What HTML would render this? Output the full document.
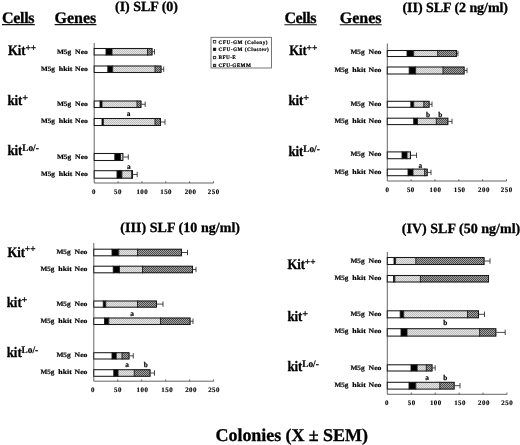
<!DOCTYPE html>
<html><head><meta charset="utf-8"><title>Colonies</title>
<style>
html,body{margin:0;padding:0;background:#fff;}
body{width:520px;height:445px;overflow:hidden;font-family:"Liberation Serif",serif;}
svg{display:block;filter:blur(0.35px);}
</style></head><body>
<svg text-rendering="geometricPrecision" width="520" height="445" viewBox="0 0 520 445">
<defs>
<pattern id="lg" width="2" height="2" patternUnits="userSpaceOnUse"><rect width="2" height="2" fill="#e4e4e4"/><rect width="1" height="1" fill="#c0c0c0"/><rect x="1" y="1" width="1" height="1" fill="#c0c0c0"/></pattern>
<pattern id="dg" width="2" height="2" patternUnits="userSpaceOnUse"><rect width="2" height="2" fill="#a4a4a4"/><rect width="1" height="1" fill="#4c4c4c"/><rect x="1" y="1" width="1" height="1" fill="#4c4c4c"/></pattern>
</defs>
<rect width="520" height="445" fill="#fff"/>

<text x="115" y="11" font-size="14" text-anchor="start" font-family="Liberation Serif, serif" font-weight="bold" textLength="63" lengthAdjust="spacing" stroke="#000" stroke-width="0.3" >(I) SLF (0)</text>
<text x="2" y="23.1" font-size="16" text-anchor="start" font-family="Liberation Serif, serif" font-weight="bold" textLength="32.6" lengthAdjust="spacing" stroke="#000" stroke-width="0.3" >Cells</text>
<line x1="2" y1="24.6" x2="34.8" y2="24.6" stroke="#111" stroke-width="1.1"/>
<text x="54.6" y="23.1" font-size="16" text-anchor="start" font-family="Liberation Serif, serif" font-weight="bold" textLength="41.6" lengthAdjust="spacing" stroke="#000" stroke-width="0.3" >Genes</text>
<line x1="54.6" y1="24.6" x2="96.4" y2="24.6" stroke="#111" stroke-width="1.1"/>
<text x="8" y="54.8" font-size="14.6" font-family="Liberation Serif, serif" font-weight="bold" textLength="17.6" lengthAdjust="spacingAndGlyphs" stroke="#000" stroke-width="0.3">Kit</text>
<text x="25.40" y="50.70" font-size="10" font-family="Liberation Serif, serif" font-weight="bold" textLength="10.8" lengthAdjust="spacingAndGlyphs" stroke="#000" stroke-width="0.2">++</text>
<text x="7.4" y="104.8" font-size="14.6" font-family="Liberation Serif, serif" font-weight="bold" textLength="15.0" lengthAdjust="spacingAndGlyphs" stroke="#000" stroke-width="0.3">kit</text>
<text x="22.20" y="100.70" font-size="10" font-family="Liberation Serif, serif" font-weight="bold" textLength="5.8" lengthAdjust="spacingAndGlyphs" stroke="#000" stroke-width="0.2">+</text>
<text x="7.4" y="154.7" font-size="14.6" font-family="Liberation Serif, serif" font-weight="bold" textLength="15.0" lengthAdjust="spacingAndGlyphs" stroke="#000" stroke-width="0.3">kit</text>
<text x="22.20" y="150.60" font-size="10" font-family="Liberation Serif, serif" font-weight="bold" textLength="16.6" lengthAdjust="spacingAndGlyphs" stroke="#000" stroke-width="0.2">Lo/-</text>
<text x="75.10" y="53.7" font-size="6.7" font-family="Liberation Serif, serif" font-weight="bold" textLength="12.8" lengthAdjust="spacingAndGlyphs" stroke="#000" stroke-width="0.2">Neo</text>
<text x="56.90" y="53.7" font-size="6.7" font-family="Liberation Serif, serif" font-weight="bold" textLength="14.2" lengthAdjust="spacingAndGlyphs" stroke="#000" stroke-width="0.2">M5g</text>
<text x="75.10" y="71.2" font-size="6.7" font-family="Liberation Serif, serif" font-weight="bold" textLength="12.8" lengthAdjust="spacingAndGlyphs" stroke="#000" stroke-width="0.2">Neo</text>
<text x="58.80" y="71.2" font-size="6.7" font-family="Liberation Serif, serif" font-weight="bold" textLength="13.5" lengthAdjust="spacingAndGlyphs" stroke="#000" stroke-width="0.2">hkit</text>
<text x="40.90" y="71.2" font-size="6.7" font-family="Liberation Serif, serif" font-weight="bold" textLength="13.9" lengthAdjust="spacingAndGlyphs" stroke="#000" stroke-width="0.2">M5g</text>
<text x="75.10" y="105.7" font-size="6.7" font-family="Liberation Serif, serif" font-weight="bold" textLength="12.8" lengthAdjust="spacingAndGlyphs" stroke="#000" stroke-width="0.2">Neo</text>
<text x="56.90" y="105.7" font-size="6.7" font-family="Liberation Serif, serif" font-weight="bold" textLength="14.2" lengthAdjust="spacingAndGlyphs" stroke="#000" stroke-width="0.2">M5g</text>
<text x="75.10" y="123.4" font-size="6.7" font-family="Liberation Serif, serif" font-weight="bold" textLength="12.8" lengthAdjust="spacingAndGlyphs" stroke="#000" stroke-width="0.2">Neo</text>
<text x="58.80" y="123.4" font-size="6.7" font-family="Liberation Serif, serif" font-weight="bold" textLength="13.5" lengthAdjust="spacingAndGlyphs" stroke="#000" stroke-width="0.2">hkit</text>
<text x="40.90" y="123.4" font-size="6.7" font-family="Liberation Serif, serif" font-weight="bold" textLength="13.9" lengthAdjust="spacingAndGlyphs" stroke="#000" stroke-width="0.2">M5g</text>
<text x="75.10" y="158.9" font-size="6.7" font-family="Liberation Serif, serif" font-weight="bold" textLength="12.8" lengthAdjust="spacingAndGlyphs" stroke="#000" stroke-width="0.2">Neo</text>
<text x="56.90" y="158.9" font-size="6.7" font-family="Liberation Serif, serif" font-weight="bold" textLength="14.2" lengthAdjust="spacingAndGlyphs" stroke="#000" stroke-width="0.2">M5g</text>
<text x="75.10" y="175.7" font-size="6.7" font-family="Liberation Serif, serif" font-weight="bold" textLength="12.8" lengthAdjust="spacingAndGlyphs" stroke="#000" stroke-width="0.2">Neo</text>
<text x="58.80" y="175.7" font-size="6.7" font-family="Liberation Serif, serif" font-weight="bold" textLength="13.5" lengthAdjust="spacingAndGlyphs" stroke="#000" stroke-width="0.2">hkit</text>
<text x="40.90" y="175.7" font-size="6.7" font-family="Liberation Serif, serif" font-weight="bold" textLength="13.9" lengthAdjust="spacingAndGlyphs" stroke="#000" stroke-width="0.2">M5g</text>
<path d="M94.2 43V183H213.6" stroke="#484848" stroke-width="0.85" fill="none"/>
<line x1="118.08" y1="183" x2="118.08" y2="181.2" stroke="#484848" stroke-width="0.8"/>
<line x1="141.96" y1="183" x2="141.96" y2="181.2" stroke="#484848" stroke-width="0.8"/>
<line x1="165.84" y1="183" x2="165.84" y2="181.2" stroke="#484848" stroke-width="0.8"/>
<line x1="189.72" y1="183" x2="189.72" y2="181.2" stroke="#484848" stroke-width="0.8"/>
<line x1="213.60" y1="183" x2="213.60" y2="181.2" stroke="#484848" stroke-width="0.8"/>
<text x="93.95" y="193.7" font-size="6.9" text-anchor="middle" font-family="Liberation Serif, serif" font-weight="bold" letter-spacing="0.5" stroke="#000" stroke-width="0.15">0</text>
<text x="118.05" y="193.7" font-size="6.9" text-anchor="middle" font-family="Liberation Serif, serif" font-weight="bold" letter-spacing="0.5" stroke="#000" stroke-width="0.15">50</text>
<text x="142.35" y="193.7" font-size="6.9" text-anchor="middle" font-family="Liberation Serif, serif" font-weight="bold" letter-spacing="0.5" stroke="#000" stroke-width="0.15">100</text>
<text x="166.15" y="193.7" font-size="6.9" text-anchor="middle" font-family="Liberation Serif, serif" font-weight="bold" letter-spacing="0.5" stroke="#000" stroke-width="0.15">150</text>
<text x="190.55" y="193.7" font-size="6.9" text-anchor="middle" font-family="Liberation Serif, serif" font-weight="bold" letter-spacing="0.5" stroke="#000" stroke-width="0.15">200</text>
<text x="213.75" y="193.7" font-size="6.9" text-anchor="middle" font-family="Liberation Serif, serif" font-weight="bold" letter-spacing="0.5" stroke="#000" stroke-width="0.15">250</text>
<rect x="94.20" y="48.30" width="11.80" height="6.90" fill="#ffffff"/>
<rect x="106.00" y="48.30" width="6.00" height="6.90" fill="#000000"/>
<rect x="112.00" y="48.30" width="35.50" height="6.90" fill="url(#lg)"/>
<rect x="147.50" y="48.30" width="5.00" height="6.90" fill="url(#dg)"/>
<line x1="106.00" y1="48.00" x2="106.00" y2="55.50" stroke="#1a1a1a" stroke-width="0.9"/>
<line x1="112.00" y1="48.00" x2="112.00" y2="55.50" stroke="#1a1a1a" stroke-width="0.9"/>
<line x1="147.50" y1="48.00" x2="147.50" y2="55.50" stroke="#1a1a1a" stroke-width="0.9"/>
<rect x="94.20" y="48.50" width="57.80" height="6.50" fill="none" stroke="#1a1a1a" stroke-width="1.05"/>
<path d="M152.50 51.75H154.50M154.50 49.05V54.45" stroke="#1a1a1a" stroke-width="0.8" fill="none"/>
<rect x="94.20" y="65.80" width="13.60" height="6.90" fill="#ffffff"/>
<rect x="107.80" y="65.80" width="4.90" height="6.90" fill="#000000"/>
<rect x="112.70" y="65.80" width="42.30" height="6.90" fill="url(#lg)"/>
<rect x="155.00" y="65.80" width="6.50" height="6.90" fill="url(#dg)"/>
<line x1="107.80" y1="65.50" x2="107.80" y2="73.00" stroke="#1a1a1a" stroke-width="0.9"/>
<line x1="112.70" y1="65.50" x2="112.70" y2="73.00" stroke="#1a1a1a" stroke-width="0.9"/>
<line x1="155.00" y1="65.50" x2="155.00" y2="73.00" stroke="#1a1a1a" stroke-width="0.9"/>
<rect x="94.20" y="66.00" width="66.80" height="6.50" fill="none" stroke="#1a1a1a" stroke-width="1.05"/>
<path d="M161.50 69.25H163.70M163.70 66.55V71.95" stroke="#1a1a1a" stroke-width="0.8" fill="none"/>
<rect x="94.20" y="100.80" width="5.80" height="6.90" fill="#ffffff"/>
<rect x="100.00" y="100.80" width="2.00" height="6.90" fill="#000000"/>
<rect x="102.00" y="100.80" width="35.00" height="6.90" fill="url(#lg)"/>
<rect x="137.00" y="100.80" width="4.40" height="6.90" fill="url(#dg)"/>
<line x1="100.00" y1="100.50" x2="100.00" y2="108.00" stroke="#1a1a1a" stroke-width="0.9"/>
<line x1="102.00" y1="100.50" x2="102.00" y2="108.00" stroke="#1a1a1a" stroke-width="0.9"/>
<line x1="137.00" y1="100.50" x2="137.00" y2="108.00" stroke="#1a1a1a" stroke-width="0.9"/>
<rect x="94.20" y="101.00" width="46.70" height="6.50" fill="none" stroke="#1a1a1a" stroke-width="1.05"/>
<path d="M141.40 104.25H145.20M145.20 101.55V106.95" stroke="#1a1a1a" stroke-width="0.8" fill="none"/>
<rect x="94.20" y="118.30" width="7.80" height="7.40" fill="#ffffff"/>
<rect x="102.00" y="118.30" width="1.40" height="7.40" fill="#000000"/>
<rect x="103.40" y="118.30" width="51.60" height="7.40" fill="url(#lg)"/>
<rect x="155.00" y="118.30" width="6.00" height="7.40" fill="url(#dg)"/>
<line x1="102.00" y1="118.00" x2="102.00" y2="126.00" stroke="#1a1a1a" stroke-width="0.9"/>
<line x1="103.40" y1="118.00" x2="103.40" y2="126.00" stroke="#1a1a1a" stroke-width="0.9"/>
<line x1="155.00" y1="118.00" x2="155.00" y2="126.00" stroke="#1a1a1a" stroke-width="0.9"/>
<rect x="94.20" y="118.50" width="66.30" height="7.00" fill="none" stroke="#1a1a1a" stroke-width="1.05"/>
<path d="M161.00 122.00H165.00M165.00 119.30V124.70" stroke="#1a1a1a" stroke-width="0.8" fill="none"/>
<rect x="94.20" y="153.30" width="20.60" height="7.40" fill="#ffffff"/>
<rect x="114.80" y="153.30" width="5.70" height="7.40" fill="#000000"/>
<rect x="120.50" y="153.30" width="2.90" height="7.40" fill="url(#lg)"/>
<line x1="114.80" y1="153.00" x2="114.80" y2="161.00" stroke="#1a1a1a" stroke-width="0.9"/>
<line x1="120.50" y1="153.00" x2="120.50" y2="161.00" stroke="#1a1a1a" stroke-width="0.9"/>
<rect x="94.20" y="153.50" width="28.70" height="7.00" fill="none" stroke="#1a1a1a" stroke-width="1.05"/>
<path d="M123.40 157.00H128.30M128.30 154.30V159.70" stroke="#1a1a1a" stroke-width="0.8" fill="none"/>
<rect x="94.20" y="170.50" width="22.80" height="7.90" fill="#ffffff"/>
<rect x="117.00" y="170.50" width="4.90" height="7.90" fill="#000000"/>
<rect x="121.90" y="170.50" width="9.80" height="7.90" fill="url(#lg)"/>
<rect x="131.70" y="170.50" width="1.30" height="7.90" fill="url(#dg)"/>
<line x1="117.00" y1="170.20" x2="117.00" y2="178.70" stroke="#1a1a1a" stroke-width="0.9"/>
<line x1="121.90" y1="170.20" x2="121.90" y2="178.70" stroke="#1a1a1a" stroke-width="0.9"/>
<line x1="131.70" y1="170.20" x2="131.70" y2="178.70" stroke="#1a1a1a" stroke-width="0.9"/>
<rect x="94.20" y="170.70" width="38.30" height="7.50" fill="none" stroke="#1a1a1a" stroke-width="1.05"/>
<path d="M133.00 174.45H137.20M137.20 171.75V177.15" stroke="#1a1a1a" stroke-width="0.8" fill="none"/>
<text x="128.6" y="116.0" font-size="7.3" text-anchor="middle" font-family="Liberation Serif, serif" font-weight="bold" stroke="#000" stroke-width="0.2" >a</text>
<text x="128.8" y="169.4" font-size="7.3" text-anchor="middle" font-family="Liberation Serif, serif" font-weight="bold" stroke="#000" stroke-width="0.2" >a</text>
<rect x="211" y="37.3" width="60.5" height="30.7" fill="#fff" stroke="#555" stroke-width="0.8"/>
<rect x="213.3" y="40.5" width="2.5" height="2.5" fill="#fff" stroke="#111" stroke-width="0.7"/>
<text x="218.5" y="43.6" font-size="5.2" text-anchor="start" font-family="Liberation Serif, serif" font-weight="bold" textLength="49" lengthAdjust="spacing" stroke="#000" stroke-width="0.2" >CFU-GM (Colony)</text>
<rect x="213.3" y="48.1" width="2.5" height="2.5" fill="#000" stroke="#111" stroke-width="0.7"/>
<text x="218.5" y="51.2" font-size="5.2" text-anchor="start" font-family="Liberation Serif, serif" font-weight="bold" textLength="50.3" lengthAdjust="spacing" stroke="#000" stroke-width="0.2" >CFU-GM (Cluster)</text>
<rect x="213.3" y="56.3" width="2.5" height="2.5" fill="url(#lg)" stroke="#111" stroke-width="0.7"/>
<text x="218.5" y="59.4" font-size="5.2" text-anchor="start" font-family="Liberation Serif, serif" font-weight="bold" textLength="17.3" lengthAdjust="spacing" stroke="#000" stroke-width="0.2" >BFU-E</text>
<rect x="213.3" y="64.2" width="2.5" height="2.5" fill="url(#dg)" stroke="#111" stroke-width="0.7"/>
<text x="218.5" y="67.3" font-size="5.2" text-anchor="start" font-family="Liberation Serif, serif" font-weight="bold" textLength="32.3" lengthAdjust="spacing" stroke="#000" stroke-width="0.2" >CFU-GEMM</text>
<text x="402.5" y="12" font-size="14" text-anchor="start" font-family="Liberation Serif, serif" font-weight="bold" textLength="105.5" lengthAdjust="spacing" stroke="#000" stroke-width="0.3" >(II) SLF (2 ng/ml)</text>
<text x="284.4" y="23.3" font-size="16" text-anchor="start" font-family="Liberation Serif, serif" font-weight="bold" textLength="32.2" lengthAdjust="spacing" stroke="#000" stroke-width="0.3" >Cells</text>
<line x1="284.4" y1="24.8" x2="316.8" y2="24.8" stroke="#111" stroke-width="1.1"/>
<text x="339.7" y="23.3" font-size="16" text-anchor="start" font-family="Liberation Serif, serif" font-weight="bold" textLength="41.8" lengthAdjust="spacing" stroke="#000" stroke-width="0.3" >Genes</text>
<line x1="339.7" y1="24.8" x2="381.7" y2="24.8" stroke="#111" stroke-width="1.1"/>
<path d="M387.3 43.5V181H506.5" stroke="#484848" stroke-width="0.85" fill="none"/>
<line x1="411.14" y1="181" x2="411.14" y2="179.2" stroke="#484848" stroke-width="0.8"/>
<line x1="434.98" y1="181" x2="434.98" y2="179.2" stroke="#484848" stroke-width="0.8"/>
<line x1="458.82" y1="181" x2="458.82" y2="179.2" stroke="#484848" stroke-width="0.8"/>
<line x1="482.66" y1="181" x2="482.66" y2="179.2" stroke="#484848" stroke-width="0.8"/>
<line x1="506.50" y1="181" x2="506.50" y2="179.2" stroke="#484848" stroke-width="0.8"/>
<text x="387.45" y="191.6" font-size="6.9" text-anchor="middle" font-family="Liberation Serif, serif" font-weight="bold" letter-spacing="0.5" stroke="#000" stroke-width="0.15">0</text>
<text x="410.85" y="191.6" font-size="6.9" text-anchor="middle" font-family="Liberation Serif, serif" font-weight="bold" letter-spacing="0.5" stroke="#000" stroke-width="0.15">50</text>
<text x="435.45" y="191.6" font-size="6.9" text-anchor="middle" font-family="Liberation Serif, serif" font-weight="bold" letter-spacing="0.5" stroke="#000" stroke-width="0.15">100</text>
<text x="459.65" y="191.6" font-size="6.9" text-anchor="middle" font-family="Liberation Serif, serif" font-weight="bold" letter-spacing="0.5" stroke="#000" stroke-width="0.15">150</text>
<text x="483.95" y="191.6" font-size="6.9" text-anchor="middle" font-family="Liberation Serif, serif" font-weight="bold" letter-spacing="0.5" stroke="#000" stroke-width="0.15">200</text>
<text x="506.75" y="191.6" font-size="6.9" text-anchor="middle" font-family="Liberation Serif, serif" font-weight="bold" letter-spacing="0.5" stroke="#000" stroke-width="0.15">250</text>
<rect x="387.30" y="50.30" width="19.70" height="6.40" fill="#ffffff"/>
<rect x="407.00" y="50.30" width="6.70" height="6.40" fill="#000000"/>
<rect x="413.70" y="50.30" width="24.00" height="6.40" fill="url(#lg)"/>
<rect x="437.70" y="50.30" width="19.30" height="6.40" fill="url(#dg)"/>
<line x1="407.00" y1="50.00" x2="407.00" y2="57.00" stroke="#1a1a1a" stroke-width="0.9"/>
<line x1="413.70" y1="50.00" x2="413.70" y2="57.00" stroke="#1a1a1a" stroke-width="0.9"/>
<line x1="437.70" y1="50.00" x2="437.70" y2="57.00" stroke="#1a1a1a" stroke-width="0.9"/>
<rect x="387.30" y="50.50" width="69.20" height="6.00" fill="none" stroke="#1a1a1a" stroke-width="1.05"/>
<path d="M457.00 53.50H458.00M458.00 50.80V56.20" stroke="#1a1a1a" stroke-width="0.8" fill="none"/>
<rect x="387.30" y="66.80" width="21.90" height="7.40" fill="#ffffff"/>
<rect x="409.20" y="66.80" width="6.40" height="7.40" fill="#000000"/>
<rect x="415.60" y="66.80" width="27.40" height="7.40" fill="url(#lg)"/>
<rect x="443.00" y="66.80" width="21.60" height="7.40" fill="url(#dg)"/>
<line x1="409.20" y1="66.50" x2="409.20" y2="74.50" stroke="#1a1a1a" stroke-width="0.9"/>
<line x1="415.60" y1="66.50" x2="415.60" y2="74.50" stroke="#1a1a1a" stroke-width="0.9"/>
<line x1="443.00" y1="66.50" x2="443.00" y2="74.50" stroke="#1a1a1a" stroke-width="0.9"/>
<rect x="387.30" y="67.00" width="76.80" height="7.00" fill="none" stroke="#1a1a1a" stroke-width="1.05"/>
<path d="M464.60 70.50H467.00M467.00 67.80V73.20" stroke="#1a1a1a" stroke-width="0.8" fill="none"/>
<rect x="387.30" y="101.10" width="23.50" height="6.40" fill="#ffffff"/>
<rect x="410.80" y="101.10" width="2.90" height="6.40" fill="#000000"/>
<rect x="413.70" y="101.10" width="10.10" height="6.40" fill="url(#lg)"/>
<rect x="423.80" y="101.10" width="5.80" height="6.40" fill="url(#dg)"/>
<line x1="410.80" y1="100.80" x2="410.80" y2="107.80" stroke="#1a1a1a" stroke-width="0.9"/>
<line x1="413.70" y1="100.80" x2="413.70" y2="107.80" stroke="#1a1a1a" stroke-width="0.9"/>
<line x1="423.80" y1="100.80" x2="423.80" y2="107.80" stroke="#1a1a1a" stroke-width="0.9"/>
<rect x="387.30" y="101.30" width="41.80" height="6.00" fill="none" stroke="#1a1a1a" stroke-width="1.05"/>
<path d="M429.60 104.30H432.00M432.00 101.60V107.00" stroke="#1a1a1a" stroke-width="0.8" fill="none"/>
<rect x="387.30" y="118.00" width="26.40" height="6.80" fill="#ffffff"/>
<rect x="413.70" y="118.00" width="3.80" height="6.80" fill="#000000"/>
<rect x="417.50" y="118.00" width="18.80" height="6.80" fill="url(#lg)"/>
<rect x="436.30" y="118.00" width="12.00" height="6.80" fill="url(#dg)"/>
<line x1="413.70" y1="117.70" x2="413.70" y2="125.10" stroke="#1a1a1a" stroke-width="0.9"/>
<line x1="417.50" y1="117.70" x2="417.50" y2="125.10" stroke="#1a1a1a" stroke-width="0.9"/>
<line x1="436.30" y1="117.70" x2="436.30" y2="125.10" stroke="#1a1a1a" stroke-width="0.9"/>
<rect x="387.30" y="118.20" width="60.50" height="6.40" fill="none" stroke="#1a1a1a" stroke-width="1.05"/>
<path d="M448.30 121.40H452.00M452.00 118.70V124.10" stroke="#1a1a1a" stroke-width="0.8" fill="none"/>
<rect x="387.30" y="151.70" width="14.70" height="7.20" fill="#ffffff"/>
<rect x="402.00" y="151.70" width="5.00" height="7.20" fill="#000000"/>
<rect x="407.00" y="151.70" width="4.00" height="7.20" fill="url(#lg)"/>
<line x1="402.00" y1="151.40" x2="402.00" y2="159.20" stroke="#1a1a1a" stroke-width="0.9"/>
<line x1="407.00" y1="151.40" x2="407.00" y2="159.20" stroke="#1a1a1a" stroke-width="0.9"/>
<rect x="387.30" y="151.90" width="23.20" height="6.80" fill="none" stroke="#1a1a1a" stroke-width="1.05"/>
<path d="M411.00 155.30H416.50M416.50 152.60V158.00" stroke="#1a1a1a" stroke-width="0.8" fill="none"/>
<rect x="387.30" y="168.90" width="20.70" height="7.00" fill="#ffffff"/>
<rect x="408.00" y="168.90" width="5.00" height="7.00" fill="#000000"/>
<rect x="413.00" y="168.90" width="11.60" height="7.00" fill="url(#lg)"/>
<rect x="424.60" y="168.90" width="3.10" height="7.00" fill="url(#dg)"/>
<line x1="408.00" y1="168.60" x2="408.00" y2="176.20" stroke="#1a1a1a" stroke-width="0.9"/>
<line x1="413.00" y1="168.60" x2="413.00" y2="176.20" stroke="#1a1a1a" stroke-width="0.9"/>
<line x1="424.60" y1="168.60" x2="424.60" y2="176.20" stroke="#1a1a1a" stroke-width="0.9"/>
<rect x="387.30" y="169.10" width="39.90" height="6.60" fill="none" stroke="#1a1a1a" stroke-width="1.05"/>
<path d="M427.70 172.40H431.00M431.00 169.70V175.10" stroke="#1a1a1a" stroke-width="0.8" fill="none"/>
<text x="428" y="116.7" font-size="7.3" text-anchor="middle" font-family="Liberation Serif, serif" font-weight="bold" stroke="#000" stroke-width="0.2" >b</text>
<text x="440.2" y="116.7" font-size="7.3" text-anchor="middle" font-family="Liberation Serif, serif" font-weight="bold" stroke="#000" stroke-width="0.2" >b</text>
<text x="420.4" y="167.5" font-size="7.3" text-anchor="middle" font-family="Liberation Serif, serif" font-weight="bold" stroke="#000" stroke-width="0.2" >a</text>
<text x="289.2" y="55" font-size="14.6" font-family="Liberation Serif, serif" font-weight="bold" textLength="17.6" lengthAdjust="spacingAndGlyphs" stroke="#000" stroke-width="0.3">Kit</text>
<text x="306.60" y="50.90" font-size="10" font-family="Liberation Serif, serif" font-weight="bold" textLength="10.8" lengthAdjust="spacingAndGlyphs" stroke="#000" stroke-width="0.2">++</text>
<text x="288.4" y="105" font-size="14.6" font-family="Liberation Serif, serif" font-weight="bold" textLength="15.0" lengthAdjust="spacingAndGlyphs" stroke="#000" stroke-width="0.3">kit</text>
<text x="303.20" y="100.90" font-size="10" font-family="Liberation Serif, serif" font-weight="bold" textLength="5.8" lengthAdjust="spacingAndGlyphs" stroke="#000" stroke-width="0.2">+</text>
<text x="288.4" y="155.7" font-size="14.6" font-family="Liberation Serif, serif" font-weight="bold" textLength="15.0" lengthAdjust="spacingAndGlyphs" stroke="#000" stroke-width="0.3">kit</text>
<text x="303.20" y="151.60" font-size="10" font-family="Liberation Serif, serif" font-weight="bold" textLength="16.6" lengthAdjust="spacingAndGlyphs" stroke="#000" stroke-width="0.2">Lo/-</text>
<text x="368.60" y="54.4" font-size="6.7" font-family="Liberation Serif, serif" font-weight="bold" textLength="12.8" lengthAdjust="spacingAndGlyphs" stroke="#000" stroke-width="0.2">Neo</text>
<text x="350.40" y="54.4" font-size="6.7" font-family="Liberation Serif, serif" font-weight="bold" textLength="14.2" lengthAdjust="spacingAndGlyphs" stroke="#000" stroke-width="0.2">M5g</text>
<text x="368.60" y="72.1" font-size="6.7" font-family="Liberation Serif, serif" font-weight="bold" textLength="12.8" lengthAdjust="spacingAndGlyphs" stroke="#000" stroke-width="0.2">Neo</text>
<text x="352.30" y="72.1" font-size="6.7" font-family="Liberation Serif, serif" font-weight="bold" textLength="13.5" lengthAdjust="spacingAndGlyphs" stroke="#000" stroke-width="0.2">hkit</text>
<text x="334.40" y="72.1" font-size="6.7" font-family="Liberation Serif, serif" font-weight="bold" textLength="13.9" lengthAdjust="spacingAndGlyphs" stroke="#000" stroke-width="0.2">M5g</text>
<text x="368.60" y="105.9" font-size="6.7" font-family="Liberation Serif, serif" font-weight="bold" textLength="12.8" lengthAdjust="spacingAndGlyphs" stroke="#000" stroke-width="0.2">Neo</text>
<text x="350.40" y="105.9" font-size="6.7" font-family="Liberation Serif, serif" font-weight="bold" textLength="14.2" lengthAdjust="spacingAndGlyphs" stroke="#000" stroke-width="0.2">M5g</text>
<text x="368.60" y="122.9" font-size="6.7" font-family="Liberation Serif, serif" font-weight="bold" textLength="12.8" lengthAdjust="spacingAndGlyphs" stroke="#000" stroke-width="0.2">Neo</text>
<text x="352.30" y="122.9" font-size="6.7" font-family="Liberation Serif, serif" font-weight="bold" textLength="13.5" lengthAdjust="spacingAndGlyphs" stroke="#000" stroke-width="0.2">hkit</text>
<text x="334.40" y="122.9" font-size="6.7" font-family="Liberation Serif, serif" font-weight="bold" textLength="13.9" lengthAdjust="spacingAndGlyphs" stroke="#000" stroke-width="0.2">M5g</text>
<text x="368.60" y="156.3" font-size="6.7" font-family="Liberation Serif, serif" font-weight="bold" textLength="12.8" lengthAdjust="spacingAndGlyphs" stroke="#000" stroke-width="0.2">Neo</text>
<text x="350.40" y="156.3" font-size="6.7" font-family="Liberation Serif, serif" font-weight="bold" textLength="14.2" lengthAdjust="spacingAndGlyphs" stroke="#000" stroke-width="0.2">M5g</text>
<text x="368.60" y="173.8" font-size="6.7" font-family="Liberation Serif, serif" font-weight="bold" textLength="12.8" lengthAdjust="spacingAndGlyphs" stroke="#000" stroke-width="0.2">Neo</text>
<text x="352.30" y="173.8" font-size="6.7" font-family="Liberation Serif, serif" font-weight="bold" textLength="13.5" lengthAdjust="spacingAndGlyphs" stroke="#000" stroke-width="0.2">hkit</text>
<text x="334.40" y="173.8" font-size="6.7" font-family="Liberation Serif, serif" font-weight="bold" textLength="13.9" lengthAdjust="spacingAndGlyphs" stroke="#000" stroke-width="0.2">M5g</text>
<text x="120.3" y="231.8" font-size="14" text-anchor="start" font-family="Liberation Serif, serif" font-weight="bold" textLength="119.7" lengthAdjust="spacing" stroke="#000" stroke-width="0.3" >(III) SLF (10 ng/ml)</text>
<text x="7.4" y="256.5" font-size="14.6" font-family="Liberation Serif, serif" font-weight="bold" textLength="17.6" lengthAdjust="spacingAndGlyphs" stroke="#000" stroke-width="0.3">Kit</text>
<text x="24.80" y="252.40" font-size="10" font-family="Liberation Serif, serif" font-weight="bold" textLength="10.8" lengthAdjust="spacingAndGlyphs" stroke="#000" stroke-width="0.2">++</text>
<text x="6.7" y="306.8" font-size="14.6" font-family="Liberation Serif, serif" font-weight="bold" textLength="15.0" lengthAdjust="spacingAndGlyphs" stroke="#000" stroke-width="0.3">kit</text>
<text x="21.50" y="302.70" font-size="10" font-family="Liberation Serif, serif" font-weight="bold" textLength="5.8" lengthAdjust="spacingAndGlyphs" stroke="#000" stroke-width="0.2">+</text>
<text x="6.7" y="357.3" font-size="14.6" font-family="Liberation Serif, serif" font-weight="bold" textLength="15.0" lengthAdjust="spacingAndGlyphs" stroke="#000" stroke-width="0.3">kit</text>
<text x="21.50" y="353.20" font-size="10" font-family="Liberation Serif, serif" font-weight="bold" textLength="16.6" lengthAdjust="spacingAndGlyphs" stroke="#000" stroke-width="0.2">Lo/-</text>
<text x="74.60" y="253.8" font-size="6.7" font-family="Liberation Serif, serif" font-weight="bold" textLength="12.8" lengthAdjust="spacingAndGlyphs" stroke="#000" stroke-width="0.2">Neo</text>
<text x="56.40" y="253.8" font-size="6.7" font-family="Liberation Serif, serif" font-weight="bold" textLength="14.2" lengthAdjust="spacingAndGlyphs" stroke="#000" stroke-width="0.2">M5g</text>
<text x="74.60" y="270.9" font-size="6.7" font-family="Liberation Serif, serif" font-weight="bold" textLength="12.8" lengthAdjust="spacingAndGlyphs" stroke="#000" stroke-width="0.2">Neo</text>
<text x="58.30" y="270.9" font-size="6.7" font-family="Liberation Serif, serif" font-weight="bold" textLength="13.5" lengthAdjust="spacingAndGlyphs" stroke="#000" stroke-width="0.2">hkit</text>
<text x="40.40" y="270.9" font-size="6.7" font-family="Liberation Serif, serif" font-weight="bold" textLength="13.9" lengthAdjust="spacingAndGlyphs" stroke="#000" stroke-width="0.2">M5g</text>
<text x="74.60" y="305.7" font-size="6.7" font-family="Liberation Serif, serif" font-weight="bold" textLength="12.8" lengthAdjust="spacingAndGlyphs" stroke="#000" stroke-width="0.2">Neo</text>
<text x="56.40" y="305.7" font-size="6.7" font-family="Liberation Serif, serif" font-weight="bold" textLength="14.2" lengthAdjust="spacingAndGlyphs" stroke="#000" stroke-width="0.2">M5g</text>
<text x="74.60" y="322.7" font-size="6.7" font-family="Liberation Serif, serif" font-weight="bold" textLength="12.8" lengthAdjust="spacingAndGlyphs" stroke="#000" stroke-width="0.2">Neo</text>
<text x="58.30" y="322.7" font-size="6.7" font-family="Liberation Serif, serif" font-weight="bold" textLength="13.5" lengthAdjust="spacingAndGlyphs" stroke="#000" stroke-width="0.2">hkit</text>
<text x="40.40" y="322.7" font-size="6.7" font-family="Liberation Serif, serif" font-weight="bold" textLength="13.9" lengthAdjust="spacingAndGlyphs" stroke="#000" stroke-width="0.2">M5g</text>
<text x="74.60" y="357.1" font-size="6.7" font-family="Liberation Serif, serif" font-weight="bold" textLength="12.8" lengthAdjust="spacingAndGlyphs" stroke="#000" stroke-width="0.2">Neo</text>
<text x="56.40" y="357.1" font-size="6.7" font-family="Liberation Serif, serif" font-weight="bold" textLength="14.2" lengthAdjust="spacingAndGlyphs" stroke="#000" stroke-width="0.2">M5g</text>
<text x="74.60" y="374.1" font-size="6.7" font-family="Liberation Serif, serif" font-weight="bold" textLength="12.8" lengthAdjust="spacingAndGlyphs" stroke="#000" stroke-width="0.2">Neo</text>
<text x="58.30" y="374.1" font-size="6.7" font-family="Liberation Serif, serif" font-weight="bold" textLength="13.5" lengthAdjust="spacingAndGlyphs" stroke="#000" stroke-width="0.2">hkit</text>
<text x="40.40" y="374.1" font-size="6.7" font-family="Liberation Serif, serif" font-weight="bold" textLength="13.9" lengthAdjust="spacingAndGlyphs" stroke="#000" stroke-width="0.2">M5g</text>
<path d="M93.8 243V381.2H213.6" stroke="#484848" stroke-width="0.85" fill="none"/>
<line x1="117.76" y1="381.2" x2="117.76" y2="379.4" stroke="#484848" stroke-width="0.8"/>
<line x1="141.72" y1="381.2" x2="141.72" y2="379.4" stroke="#484848" stroke-width="0.8"/>
<line x1="165.68" y1="381.2" x2="165.68" y2="379.4" stroke="#484848" stroke-width="0.8"/>
<line x1="189.64" y1="381.2" x2="189.64" y2="379.4" stroke="#484848" stroke-width="0.8"/>
<line x1="213.60" y1="381.2" x2="213.60" y2="379.4" stroke="#484848" stroke-width="0.8"/>
<text x="93.05" y="391.9" font-size="6.9" text-anchor="middle" font-family="Liberation Serif, serif" font-weight="bold" letter-spacing="0.5" stroke="#000" stroke-width="0.15">0</text>
<text x="118.05" y="391.9" font-size="6.9" text-anchor="middle" font-family="Liberation Serif, serif" font-weight="bold" letter-spacing="0.5" stroke="#000" stroke-width="0.15">50</text>
<text x="142.45" y="391.9" font-size="6.9" text-anchor="middle" font-family="Liberation Serif, serif" font-weight="bold" letter-spacing="0.5" stroke="#000" stroke-width="0.15">100</text>
<text x="167.25" y="391.9" font-size="6.9" text-anchor="middle" font-family="Liberation Serif, serif" font-weight="bold" letter-spacing="0.5" stroke="#000" stroke-width="0.15">150</text>
<text x="191.05" y="391.9" font-size="6.9" text-anchor="middle" font-family="Liberation Serif, serif" font-weight="bold" letter-spacing="0.5" stroke="#000" stroke-width="0.15">200</text>
<text x="214.05" y="391.9" font-size="6.9" text-anchor="middle" font-family="Liberation Serif, serif" font-weight="bold" letter-spacing="0.5" stroke="#000" stroke-width="0.15">250</text>
<rect x="93.80" y="249.00" width="18.20" height="7.00" fill="#ffffff"/>
<rect x="112.00" y="249.00" width="6.75" height="7.00" fill="#000000"/>
<rect x="118.75" y="249.00" width="18.75" height="7.00" fill="url(#lg)"/>
<rect x="137.50" y="249.00" width="44.50" height="7.00" fill="url(#dg)"/>
<line x1="112.00" y1="248.70" x2="112.00" y2="256.30" stroke="#1a1a1a" stroke-width="0.9"/>
<line x1="118.75" y1="248.70" x2="118.75" y2="256.30" stroke="#1a1a1a" stroke-width="0.9"/>
<line x1="137.50" y1="248.70" x2="137.50" y2="256.30" stroke="#1a1a1a" stroke-width="0.9"/>
<rect x="93.80" y="249.20" width="87.70" height="6.60" fill="none" stroke="#1a1a1a" stroke-width="1.05"/>
<path d="M182.00 252.50H187.50M187.50 249.80V255.20" stroke="#1a1a1a" stroke-width="0.8" fill="none"/>
<rect x="93.80" y="266.00" width="19.45" height="7.00" fill="#ffffff"/>
<rect x="113.25" y="266.00" width="6.25" height="7.00" fill="#000000"/>
<rect x="119.50" y="266.00" width="23.00" height="7.00" fill="url(#lg)"/>
<rect x="142.50" y="266.00" width="50.50" height="7.00" fill="url(#dg)"/>
<line x1="113.25" y1="265.70" x2="113.25" y2="273.30" stroke="#1a1a1a" stroke-width="0.9"/>
<line x1="119.50" y1="265.70" x2="119.50" y2="273.30" stroke="#1a1a1a" stroke-width="0.9"/>
<line x1="142.50" y1="265.70" x2="142.50" y2="273.30" stroke="#1a1a1a" stroke-width="0.9"/>
<rect x="93.80" y="266.20" width="98.70" height="6.60" fill="none" stroke="#1a1a1a" stroke-width="1.05"/>
<path d="M193.00 269.50H196.00M196.00 266.80V272.20" stroke="#1a1a1a" stroke-width="0.8" fill="none"/>
<rect x="93.80" y="300.80" width="9.45" height="6.60" fill="#ffffff"/>
<rect x="103.25" y="300.80" width="2.50" height="6.60" fill="#000000"/>
<rect x="105.75" y="300.80" width="31.75" height="6.60" fill="url(#lg)"/>
<rect x="137.50" y="300.80" width="19.50" height="6.60" fill="url(#dg)"/>
<line x1="103.25" y1="300.50" x2="103.25" y2="307.70" stroke="#1a1a1a" stroke-width="0.9"/>
<line x1="105.75" y1="300.50" x2="105.75" y2="307.70" stroke="#1a1a1a" stroke-width="0.9"/>
<line x1="137.50" y1="300.50" x2="137.50" y2="307.70" stroke="#1a1a1a" stroke-width="0.9"/>
<rect x="93.80" y="301.00" width="62.70" height="6.20" fill="none" stroke="#1a1a1a" stroke-width="1.05"/>
<path d="M157.00 304.10H163.00M163.00 301.40V306.80" stroke="#1a1a1a" stroke-width="0.8" fill="none"/>
<rect x="93.80" y="317.80" width="10.70" height="6.90" fill="#ffffff"/>
<rect x="104.50" y="317.80" width="4.25" height="6.90" fill="#000000"/>
<rect x="108.75" y="317.80" width="51.75" height="6.90" fill="url(#lg)"/>
<rect x="160.50" y="317.80" width="30.00" height="6.90" fill="url(#dg)"/>
<line x1="104.50" y1="317.50" x2="104.50" y2="325.00" stroke="#1a1a1a" stroke-width="0.9"/>
<line x1="108.75" y1="317.50" x2="108.75" y2="325.00" stroke="#1a1a1a" stroke-width="0.9"/>
<line x1="160.50" y1="317.50" x2="160.50" y2="325.00" stroke="#1a1a1a" stroke-width="0.9"/>
<rect x="93.80" y="318.00" width="96.20" height="6.50" fill="none" stroke="#1a1a1a" stroke-width="1.05"/>
<path d="M190.50 321.25H193.00M193.00 318.55V323.95" stroke="#1a1a1a" stroke-width="0.8" fill="none"/>
<rect x="93.80" y="352.50" width="18.20" height="6.70" fill="#ffffff"/>
<rect x="112.00" y="352.50" width="4.25" height="6.70" fill="#000000"/>
<rect x="116.25" y="352.50" width="5.75" height="6.70" fill="url(#lg)"/>
<rect x="122.00" y="352.50" width="7.50" height="6.70" fill="url(#dg)"/>
<line x1="112.00" y1="352.20" x2="112.00" y2="359.50" stroke="#1a1a1a" stroke-width="0.9"/>
<line x1="116.25" y1="352.20" x2="116.25" y2="359.50" stroke="#1a1a1a" stroke-width="0.9"/>
<line x1="122.00" y1="352.20" x2="122.00" y2="359.50" stroke="#1a1a1a" stroke-width="0.9"/>
<rect x="93.80" y="352.70" width="35.20" height="6.30" fill="none" stroke="#1a1a1a" stroke-width="1.05"/>
<path d="M129.50 355.85H133.25M133.25 353.15V358.55" stroke="#1a1a1a" stroke-width="0.8" fill="none"/>
<rect x="93.80" y="369.50" width="19.95" height="7.00" fill="#ffffff"/>
<rect x="113.75" y="369.50" width="4.25" height="7.00" fill="#000000"/>
<rect x="118.00" y="369.50" width="16.25" height="7.00" fill="url(#lg)"/>
<rect x="134.25" y="369.50" width="16.25" height="7.00" fill="url(#dg)"/>
<line x1="113.75" y1="369.20" x2="113.75" y2="376.80" stroke="#1a1a1a" stroke-width="0.9"/>
<line x1="118.00" y1="369.20" x2="118.00" y2="376.80" stroke="#1a1a1a" stroke-width="0.9"/>
<line x1="134.25" y1="369.20" x2="134.25" y2="376.80" stroke="#1a1a1a" stroke-width="0.9"/>
<rect x="93.80" y="369.70" width="56.20" height="6.60" fill="none" stroke="#1a1a1a" stroke-width="1.05"/>
<path d="M150.50 373.00H154.50M154.50 370.30V375.70" stroke="#1a1a1a" stroke-width="0.8" fill="none"/>
<text x="132" y="315.7" font-size="7.3" text-anchor="middle" font-family="Liberation Serif, serif" font-weight="bold" stroke="#000" stroke-width="0.2" >a</text>
<text x="127" y="367.4" font-size="7.3" text-anchor="middle" font-family="Liberation Serif, serif" font-weight="bold" stroke="#000" stroke-width="0.2" >a</text>
<text x="145.8" y="366.9" font-size="7.3" text-anchor="middle" font-family="Liberation Serif, serif" font-weight="bold" stroke="#000" stroke-width="0.2" >b</text>
<text x="401.8" y="232.5" font-size="14" text-anchor="start" font-family="Liberation Serif, serif" font-weight="bold" textLength="118.4" lengthAdjust="spacing" stroke="#000" stroke-width="0.3" >(IV) SLF (50 ng/ml)</text>
<text x="287.4" y="269.3" font-size="14.6" font-family="Liberation Serif, serif" font-weight="bold" textLength="17.6" lengthAdjust="spacingAndGlyphs" stroke="#000" stroke-width="0.3">Kit</text>
<text x="304.80" y="265.20" font-size="10" font-family="Liberation Serif, serif" font-weight="bold" textLength="10.8" lengthAdjust="spacingAndGlyphs" stroke="#000" stroke-width="0.2">++</text>
<text x="287.4" y="320.8" font-size="14.6" font-family="Liberation Serif, serif" font-weight="bold" textLength="15.0" lengthAdjust="spacingAndGlyphs" stroke="#000" stroke-width="0.3">kit</text>
<text x="302.20" y="316.70" font-size="10" font-family="Liberation Serif, serif" font-weight="bold" textLength="5.8" lengthAdjust="spacingAndGlyphs" stroke="#000" stroke-width="0.2">+</text>
<text x="287.4" y="371.4" font-size="14.6" font-family="Liberation Serif, serif" font-weight="bold" textLength="15.0" lengthAdjust="spacingAndGlyphs" stroke="#000" stroke-width="0.3">kit</text>
<text x="302.20" y="367.30" font-size="10" font-family="Liberation Serif, serif" font-weight="bold" textLength="16.6" lengthAdjust="spacingAndGlyphs" stroke="#000" stroke-width="0.2">Lo/-</text>
<text x="368.60" y="262.6" font-size="6.7" font-family="Liberation Serif, serif" font-weight="bold" textLength="12.8" lengthAdjust="spacingAndGlyphs" stroke="#000" stroke-width="0.2">Neo</text>
<text x="350.40" y="262.6" font-size="6.7" font-family="Liberation Serif, serif" font-weight="bold" textLength="14.2" lengthAdjust="spacingAndGlyphs" stroke="#000" stroke-width="0.2">M5g</text>
<text x="368.60" y="280" font-size="6.7" font-family="Liberation Serif, serif" font-weight="bold" textLength="12.8" lengthAdjust="spacingAndGlyphs" stroke="#000" stroke-width="0.2">Neo</text>
<text x="352.30" y="280" font-size="6.7" font-family="Liberation Serif, serif" font-weight="bold" textLength="13.5" lengthAdjust="spacingAndGlyphs" stroke="#000" stroke-width="0.2">hkit</text>
<text x="334.40" y="280" font-size="6.7" font-family="Liberation Serif, serif" font-weight="bold" textLength="13.9" lengthAdjust="spacingAndGlyphs" stroke="#000" stroke-width="0.2">M5g</text>
<text x="368.60" y="316" font-size="6.7" font-family="Liberation Serif, serif" font-weight="bold" textLength="12.8" lengthAdjust="spacingAndGlyphs" stroke="#000" stroke-width="0.2">Neo</text>
<text x="350.40" y="316" font-size="6.7" font-family="Liberation Serif, serif" font-weight="bold" textLength="14.2" lengthAdjust="spacingAndGlyphs" stroke="#000" stroke-width="0.2">M5g</text>
<text x="368.60" y="333.3" font-size="6.7" font-family="Liberation Serif, serif" font-weight="bold" textLength="12.8" lengthAdjust="spacingAndGlyphs" stroke="#000" stroke-width="0.2">Neo</text>
<text x="352.30" y="333.3" font-size="6.7" font-family="Liberation Serif, serif" font-weight="bold" textLength="13.5" lengthAdjust="spacingAndGlyphs" stroke="#000" stroke-width="0.2">hkit</text>
<text x="334.40" y="333.3" font-size="6.7" font-family="Liberation Serif, serif" font-weight="bold" textLength="13.9" lengthAdjust="spacingAndGlyphs" stroke="#000" stroke-width="0.2">M5g</text>
<text x="368.60" y="369.6" font-size="6.7" font-family="Liberation Serif, serif" font-weight="bold" textLength="12.8" lengthAdjust="spacingAndGlyphs" stroke="#000" stroke-width="0.2">Neo</text>
<text x="350.40" y="369.6" font-size="6.7" font-family="Liberation Serif, serif" font-weight="bold" textLength="14.2" lengthAdjust="spacingAndGlyphs" stroke="#000" stroke-width="0.2">M5g</text>
<text x="368.60" y="386.7" font-size="6.7" font-family="Liberation Serif, serif" font-weight="bold" textLength="12.8" lengthAdjust="spacingAndGlyphs" stroke="#000" stroke-width="0.2">Neo</text>
<text x="352.30" y="386.7" font-size="6.7" font-family="Liberation Serif, serif" font-weight="bold" textLength="13.5" lengthAdjust="spacingAndGlyphs" stroke="#000" stroke-width="0.2">hkit</text>
<text x="334.40" y="386.7" font-size="6.7" font-family="Liberation Serif, serif" font-weight="bold" textLength="13.9" lengthAdjust="spacingAndGlyphs" stroke="#000" stroke-width="0.2">M5g</text>
<path d="M387.3 252V394.3H507" stroke="#484848" stroke-width="0.85" fill="none"/>
<line x1="411.24" y1="394.3" x2="411.24" y2="392.5" stroke="#484848" stroke-width="0.8"/>
<line x1="435.18" y1="394.3" x2="435.18" y2="392.5" stroke="#484848" stroke-width="0.8"/>
<line x1="459.12" y1="394.3" x2="459.12" y2="392.5" stroke="#484848" stroke-width="0.8"/>
<line x1="483.06" y1="394.3" x2="483.06" y2="392.5" stroke="#484848" stroke-width="0.8"/>
<line x1="507.00" y1="394.3" x2="507.00" y2="392.5" stroke="#484848" stroke-width="0.8"/>
<text x="387.05" y="405.2" font-size="6.9" text-anchor="middle" font-family="Liberation Serif, serif" font-weight="bold" letter-spacing="0.5" stroke="#000" stroke-width="0.15">0</text>
<text x="411.75" y="405.2" font-size="6.9" text-anchor="middle" font-family="Liberation Serif, serif" font-weight="bold" letter-spacing="0.5" stroke="#000" stroke-width="0.15">50</text>
<text x="435.85" y="405.2" font-size="6.9" text-anchor="middle" font-family="Liberation Serif, serif" font-weight="bold" letter-spacing="0.5" stroke="#000" stroke-width="0.15">100</text>
<text x="460.05" y="405.2" font-size="6.9" text-anchor="middle" font-family="Liberation Serif, serif" font-weight="bold" letter-spacing="0.5" stroke="#000" stroke-width="0.15">150</text>
<text x="483.95" y="405.2" font-size="6.9" text-anchor="middle" font-family="Liberation Serif, serif" font-weight="bold" letter-spacing="0.5" stroke="#000" stroke-width="0.15">200</text>
<text x="507.25" y="405.2" font-size="6.9" text-anchor="middle" font-family="Liberation Serif, serif" font-weight="bold" letter-spacing="0.5" stroke="#000" stroke-width="0.15">250</text>
<rect x="387.30" y="257.30" width="6.70" height="7.40" fill="#ffffff"/>
<rect x="394.00" y="257.30" width="1.60" height="7.40" fill="#000000"/>
<rect x="395.60" y="257.30" width="20.20" height="7.40" fill="url(#lg)"/>
<rect x="415.80" y="257.30" width="68.70" height="7.40" fill="url(#dg)"/>
<line x1="394.00" y1="257.00" x2="394.00" y2="265.00" stroke="#1a1a1a" stroke-width="0.9"/>
<line x1="395.60" y1="257.00" x2="395.60" y2="265.00" stroke="#1a1a1a" stroke-width="0.9"/>
<line x1="415.80" y1="257.00" x2="415.80" y2="265.00" stroke="#1a1a1a" stroke-width="0.9"/>
<rect x="387.30" y="257.50" width="96.70" height="7.00" fill="none" stroke="#1a1a1a" stroke-width="1.05"/>
<path d="M484.50 261.00H490.00M490.00 258.30V263.70" stroke="#1a1a1a" stroke-width="0.8" fill="none"/>
<rect x="387.30" y="275.30" width="6.20" height="6.90" fill="#ffffff"/>
<rect x="393.50" y="275.30" width="1.30" height="6.90" fill="#000000"/>
<rect x="394.80" y="275.30" width="25.60" height="6.90" fill="url(#lg)"/>
<rect x="420.40" y="275.30" width="68.60" height="6.90" fill="url(#dg)"/>
<line x1="393.50" y1="275.00" x2="393.50" y2="282.50" stroke="#1a1a1a" stroke-width="0.9"/>
<line x1="394.80" y1="275.00" x2="394.80" y2="282.50" stroke="#1a1a1a" stroke-width="0.9"/>
<line x1="420.40" y1="275.00" x2="420.40" y2="282.50" stroke="#1a1a1a" stroke-width="0.9"/>
<rect x="387.30" y="275.50" width="101.20" height="6.50" fill="none" stroke="#1a1a1a" stroke-width="1.05"/>
<rect x="387.30" y="310.60" width="12.90" height="7.40" fill="#ffffff"/>
<rect x="400.20" y="310.60" width="3.50" height="7.40" fill="#000000"/>
<rect x="403.70" y="310.60" width="63.80" height="7.40" fill="url(#lg)"/>
<rect x="467.50" y="310.60" width="11.50" height="7.40" fill="url(#dg)"/>
<line x1="400.20" y1="310.30" x2="400.20" y2="318.30" stroke="#1a1a1a" stroke-width="0.9"/>
<line x1="403.70" y1="310.30" x2="403.70" y2="318.30" stroke="#1a1a1a" stroke-width="0.9"/>
<line x1="467.50" y1="310.30" x2="467.50" y2="318.30" stroke="#1a1a1a" stroke-width="0.9"/>
<rect x="387.30" y="310.80" width="91.20" height="7.00" fill="none" stroke="#1a1a1a" stroke-width="1.05"/>
<path d="M479.00 314.30H484.50M484.50 311.60V317.00" stroke="#1a1a1a" stroke-width="0.8" fill="none"/>
<rect x="387.30" y="328.50" width="13.70" height="7.80" fill="#ffffff"/>
<rect x="401.00" y="328.50" width="6.00" height="7.80" fill="#000000"/>
<rect x="407.00" y="328.50" width="72.60" height="7.80" fill="url(#lg)"/>
<rect x="479.60" y="328.50" width="16.70" height="7.80" fill="url(#dg)"/>
<line x1="401.00" y1="328.20" x2="401.00" y2="336.60" stroke="#1a1a1a" stroke-width="0.9"/>
<line x1="407.00" y1="328.20" x2="407.00" y2="336.60" stroke="#1a1a1a" stroke-width="0.9"/>
<line x1="479.60" y1="328.20" x2="479.60" y2="336.60" stroke="#1a1a1a" stroke-width="0.9"/>
<rect x="387.30" y="328.70" width="108.50" height="7.40" fill="none" stroke="#1a1a1a" stroke-width="1.05"/>
<path d="M496.30 332.40H505.20M505.20 329.70V335.10" stroke="#1a1a1a" stroke-width="0.8" fill="none"/>
<rect x="387.30" y="364.60" width="23.70" height="6.60" fill="#ffffff"/>
<rect x="411.00" y="364.60" width="6.20" height="6.60" fill="#000000"/>
<rect x="417.20" y="364.60" width="9.10" height="6.60" fill="url(#lg)"/>
<rect x="426.30" y="364.60" width="6.20" height="6.60" fill="url(#dg)"/>
<line x1="411.00" y1="364.30" x2="411.00" y2="371.50" stroke="#1a1a1a" stroke-width="0.9"/>
<line x1="417.20" y1="364.30" x2="417.20" y2="371.50" stroke="#1a1a1a" stroke-width="0.9"/>
<line x1="426.30" y1="364.30" x2="426.30" y2="371.50" stroke="#1a1a1a" stroke-width="0.9"/>
<rect x="387.30" y="364.80" width="44.70" height="6.20" fill="none" stroke="#1a1a1a" stroke-width="1.05"/>
<path d="M432.50 367.90H435.20M435.20 365.20V370.60" stroke="#1a1a1a" stroke-width="0.8" fill="none"/>
<rect x="387.30" y="382.10" width="21.70" height="7.20" fill="#ffffff"/>
<rect x="409.00" y="382.10" width="6.80" height="7.20" fill="#000000"/>
<rect x="415.80" y="382.10" width="24.00" height="7.20" fill="url(#lg)"/>
<rect x="439.80" y="382.10" width="14.80" height="7.20" fill="url(#dg)"/>
<line x1="409.00" y1="381.80" x2="409.00" y2="389.60" stroke="#1a1a1a" stroke-width="0.9"/>
<line x1="415.80" y1="381.80" x2="415.80" y2="389.60" stroke="#1a1a1a" stroke-width="0.9"/>
<line x1="439.80" y1="381.80" x2="439.80" y2="389.60" stroke="#1a1a1a" stroke-width="0.9"/>
<rect x="387.30" y="382.30" width="66.80" height="6.80" fill="none" stroke="#1a1a1a" stroke-width="1.05"/>
<path d="M454.60 385.70H460.00M460.00 383.00V388.40" stroke="#1a1a1a" stroke-width="0.8" fill="none"/>
<text x="445.4" y="325.3" font-size="7.3" text-anchor="middle" font-family="Liberation Serif, serif" font-weight="bold" stroke="#000" stroke-width="0.2" >b</text>
<text x="427" y="380.2" font-size="7.3" text-anchor="middle" font-family="Liberation Serif, serif" font-weight="bold" stroke="#000" stroke-width="0.2" >a</text>
<text x="445.4" y="379.7" font-size="7.3" text-anchor="middle" font-family="Liberation Serif, serif" font-weight="bold" stroke="#000" stroke-width="0.2" >b</text>
<text x="215.6" y="440.6" font-size="18" text-anchor="start" font-family="Liberation Serif, serif" font-weight="bold" textLength="152.3" lengthAdjust="spacing" stroke="#000" stroke-width="0.3" >Colonies (X ± SEM)</text>
</svg></body></html>
